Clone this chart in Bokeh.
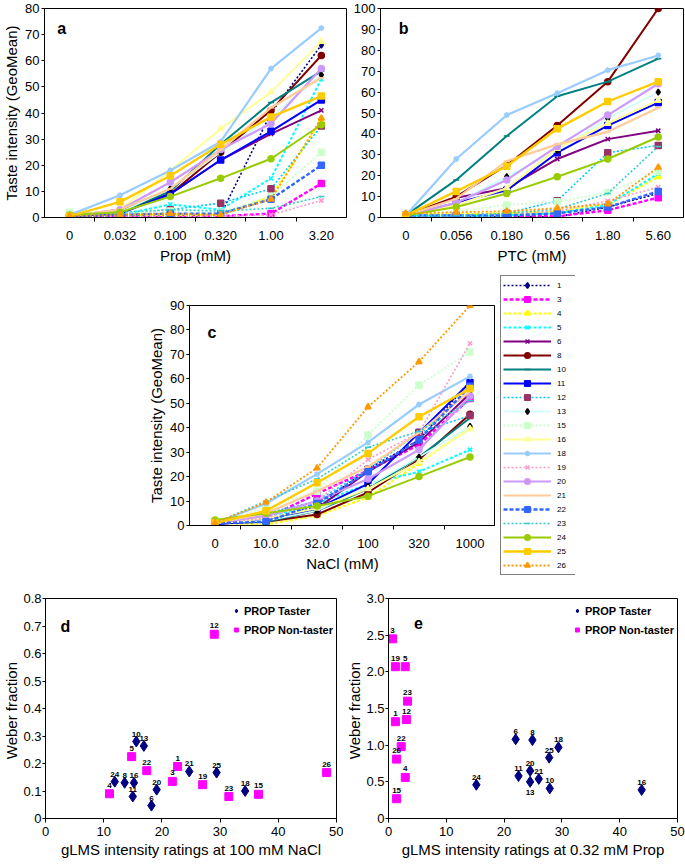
from bokeh.plotting import figure
from bokeh.models import FixedTicker, Legend, LegendItem, Label, ColumnDataSource, Spacer
from bokeh.layouts import column, row
from bokeh.embed import file_html
from bokeh.resources import INLINE
from bokeh.core.properties import value

FONT = "Liberation Sans"

# ---------------- data ----------------
subjects = ["1", "3", "4", "5", "6", "8", "10", "11", "12", "13", "15",
            "16", "18", "19", "20", "21", "22", "23", "24", "25", "26"]

prop_ticks = ["0", "0.032", "0.100", "0.320", "1.00", "3.20"]
ptc_ticks = ["0", "0.056", "0.180", "0.56", "1.80", "5.60"]
nacl_ticks = ["0", "10.0", "32.0", "100", "320", "1000"]

prop_vals = {
    "1": [0.5, 0.5, 0.5, 1.0, 40, 66], "3": [0.3, 0.3, 0.3, 0.5, 1.5, 13],
    "4": [1, 1, 1, 1, 8, 37], "5": [1, 1, 5, 3, 15, 53],
    "6": [0.5, 3, 9, 22, 32, 41], "8": [0.5, 2, 9, 25, 41, 62],
    "10": [0.5, 2, 10, 28, 44, 56], "11": [0.5, 1.5, 9, 22, 33, 45],
    "12": [0.5, 1, 3, 5.5, 11, 35], "13": [0.5, 2, 11, 25, 38.5, 54.6],
    "15": [2, 1.5, 2.5, 2, 8, 25], "16": [0.5, 3, 18, 34, 48, 67.4],
    "18": [1, 8.5, 18, 29, 57, 72.5], "19": [0.3, 0.3, 0.3, 0.5, 1, 6.5],
    "20": [0.5, 3, 13.5, 26, 36, 57], "21": [0.5, 3, 11, 26, 42, 53.5],
    "22": [0.5, 1, 1.5, 1.5, 7, 20], "23": [1, 2, 3, 2.5, 3.5, 8],
    "24": [1, 2, 8, 15, 22.5, 35.5], "25": [0.5, 6, 16, 28, 38.5, 46.5],
    "26": [0.5, 1, 1.5, 1, 7, 38],
}

ptc_vals = {
    "1": [0.5, 0.3, 0.5, 0.3, 5, 11.5], "3": [1, 1, 1, 0.5, 3.5, 9.5],
    "4": [1.5, 1.5, 2, 3, 6, 19.5], "5": [1, 0.5, 1, 2, 6, 21],
    "6": [1, 9.5, 14, 28, 37.5, 41.5], "8": [1, 10, 25, 44, 65, 100],
    "10": [1, 18, 39, 58, 65, 76], "11": [1, 7, 13, 31, 44, 55],
    "12": [1, 1, 2, 8, 31, 34.5], "13": [1, 7, 19.5, 32, 47.5, 60],
    "15": [1, 3, 6, 7.5, 12, 22], "16": [1, 6, 14, 33, 45, 56],
    "18": [1, 28, 49, 59.5, 70.5, 77.5], "19": [1, 1, 2, 3, 8, 14.5],
    "20": [1, 7, 18, 34, 49, 64], "21": [1, 9, 27, 35, 41, 52.5],
    "22": [1, 1, 1, 2, 5, 12.5], "23": [1, 1, 2, 4, 11.5, 34],
    "24": [1, 5, 11.5, 19.5, 28, 38.5], "25": [1, 12.5, 24.5, 42.5, 55.5, 65],
    "26": [2, 2.5, 3, 4.5, 6.5, 24],
}

nacl_vals = {
    "1": [0.5, 2, 8, 23, 35, 59], "3": [1, 3, 13, 22.5, 33, 52],
    "4": [1, 0.5, 4, 11.5, 25.5, 40], "5": [1, 3, 9, 17, 22, 31],
    "6": [1, 2, 7, 22, 34, 54], "8": [1, 1.5, 4.5, 13.5, 27, 45.5],
    "10": [1, 1.5, 6, 15, 28, 44], "11": [0.5, 2, 7, 17, 38, 58.5],
    "12": [1, 5, 10, 23, 38, 45], "13": [1, 2, 6, 16, 28, 40.5],
    "15": [1.5, 7, 14, 37, 57.5, 71], "16": [1, 3, 7, 15, 26, 39.5],
    "18": [1, 9, 21, 34, 49.5, 61], "19": [1, 3, 10, 27, 38, 74.5],
    "20": [1, 4, 10, 19, 31, 53], "21": [1, 5, 14, 24, 38, 55],
    "22": [1, 1.5, 9, 22, 35, 57], "23": [1, 10, 19, 32, 38.5, 51],
    "24": [2.3, 5, 8, 12, 20, 28], "25": [1, 6, 17.5, 29.5, 44.5, 56],
    "26": [1, 9.5, 23.5, 48.5, 67, 90],
}

# panel d: Weber fraction vs gLMS at 100 mM NaCl
d_taster_ids = ["24", "8", "16", "11", "10", "13", "6", "20", "21", "25", "18"]
d_taster_x = [11.9, 13.6, 15.2, 15.0, 15.6, 16.9, 18.2, 19.1, 24.7, 29.4, 34.3]
d_taster_y = [0.134, 0.13, 0.13, 0.08, 0.28, 0.264, 0.047, 0.105, 0.171, 0.167, 0.10]
d_non_ids = ["4", "5", "22", "3", "1", "19", "12", "23", "15", "26"]
d_non_x = [11.0, 14.8, 17.4, 21.8, 22.7, 27.0, 29.0, 31.5, 36.6, 48.3]
d_non_y = [0.09, 0.225, 0.174, 0.135, 0.189, 0.123, 0.67, 0.08, 0.088, 0.167]

# panel e: Weber fraction vs gLMS at 0.32 mM Prop
e_taster_ids = ["24", "6", "8", "18", "25", "11", "20", "21", "13", "10", "16"]
e_taster_x = [15.2, 22.0, 24.9, 29.4, 27.8, 22.5, 24.5, 26.0, 24.5, 27.9, 43.8]
e_taster_y = [0.46, 1.08, 1.07, 0.97, 0.83, 0.58, 0.65, 0.54, 0.50, 0.41, 0.39]
e_non_ids = ["3", "19", "5", "23", "1", "12", "22", "26", "4", "15"]
e_non_x = [0.7, 1.2, 2.9, 3.3, 1.2, 3.1, 2.2, 1.4, 2.9, 1.4]
e_non_y = [2.45, 2.07, 2.07, 1.6, 1.32, 1.35, 0.98, 0.81, 0.56, 0.27]

taste_yticks = {"a": list(range(0, 81, 10)), "b": list(range(0, 101, 10)),
                "c": list(range(0, 91, 10))}
d_yticks = [0, 0.1, 0.2, 0.3, 0.4, 0.5, 0.6, 0.7, 0.8]
d_ylabels = ["0", "0.1", "0.2", "0.3", "0.4", "0.5", "0.6", "0.7", "0.8"]
e_yticks = [0, 0.5, 1.0, 1.5, 2.0, 2.5, 3.0]
e_ylabels = ["0", "0.5", "1.0", "1.5", "2.0", "2.5", "3.0"]
scatter_xticks = [0, 10, 20, 30, 40, 50]

# ---------------- styles ----------------
# subject: (line colour, marker, marker colour, dash, line width)
DOT = "2 2"
styles = {
    "1": ("#000080", "diamond", "#000080", DOT, 1.6),
    "3": ("#FF00FF", "square", "#FF00FF", "4 2", 2.4),
    "4": ("#FFFF00", "triangle", "#FFFF00", "3 2", 2.2),
    "5": ("#00FFFF", "x", "#00FFFF", "3 2", 2.0),
    "6": ("#800080", "x", "#800080", "solid", 2.0),
    "8": ("#800000", "circle", "#800000", "solid", 2.0),
    "10": ("#008080", "dash", "#008080", "solid", 2.0),
    "11": ("#0000FF", "square", "#0000FF", "solid", 2.0),
    "12": ("#00CCFF", "square", "#993366", DOT, 1.6),
    "13": ("#CCFFFF", "diamond", "#000000", "solid", 1.6),
    "15": ("#CCFFCC", "square", "#CCFFCC", DOT, 1.8),
    "16": ("#FFFF99", "triangle", "#FFFF99", "solid", 2.0),
    "18": ("#99CCFF", "asterisk", "#99CCFF", "solid", 2.2),
    "19": ("#FF99CC", "x", "#FF99CC", DOT, 1.6),
    "20": ("#CC99FF", "circle", "#CC99FF", "solid", 2.2),
    "21": ("#FFCC99", "dash", "#FFCC99", "solid", 2.2),
    "22": ("#3366FF", "square", "#3366FF", "4 2", 2.4),
    "23": ("#33CCCC", "dash", "#33CCCC", DOT, 1.6),
    "24": ("#99CC00", "circle", "#99CC00", "solid", 2.0),
    "25": ("#FFCC00", "square", "#FFCC00", "solid", 2.4),
    "26": ("#FF9900", "triangle", "#FF9900", DOT, 1.8),
}


def style_axes(p, tick_size="13px", title_size="15px"):
    for ax in (p.xaxis[0], p.yaxis[0]):
        ax.axis_line_color = "black"
        ax.major_label_text_color = "black"
        ax.major_label_text_font = FONT
        ax.major_label_text_font_size = tick_size
        ax.axis_label_text_font = FONT
        ax.axis_label_text_font_size = title_size
        ax.axis_label_text_font_style = "normal"
        ax.axis_label_text_color = "black"
        ax.major_label_standoff = 2
        ax.axis_label_standoff = 2
        ax.major_tick_line_color = "black"
        ax.major_tick_out = 3
        ax.major_tick_in = 0
        ax.minor_tick_line_color = None
    p.xgrid.visible = False
    p.ygrid.visible = False
    p.outline_line_color = "black"
    p.outline_line_width = 1


def panel_letter(p, xy, letter):
    p.add_layout(Label(x=xy[0], y=xy[1], text=letter, text_font=FONT,
                       text_font_style="bold", text_font_size="16px",
                       text_align="center", text_baseline="middle",
                       text_color="black"))


def draw_series(p, xs, vals):
    items = []
    for s in subjects:
        lc, mk, mc, dash, lw = styles[s]
        src = ColumnDataSource(dict(x=xs, y=vals[s]))
        lr = p.line("x", "y", source=src, line_color=lc, line_width=lw,
                    line_dash=dash)
        mr = p.scatter("x", "y", source=src, marker=mk, size=6,
                       line_color=mc, fill_color=mc, line_width=1.5)
        items.append(LegendItem(label=s, renderers=[lr, mr]))
    return items


def line_panel(ticks, vals, yticks, width, height, borders, xlabel, ylabel,
               letter, letter_xy):
    xs = list(range(len(ticks)))
    left, right, top, bottom = borders
    p = figure(width=width, height=height, output_backend="svg",
               toolbar_location=None, x_range=(-0.5, len(ticks) - 0.5),
               y_range=(0, yticks[-1]), min_border_left=left,
               min_border_right=right, min_border_top=top,
               min_border_bottom=bottom)
    style_axes(p)
    p.xaxis.ticker = FixedTicker(ticks=xs, minor_ticks=[x + 0.5 for x in xs[:-1]])
    p.xaxis.major_label_overrides = {x: t for x, t in zip(xs, ticks)}
    p.xaxis.major_tick_line_color = None
    p.xaxis.minor_tick_line_color = "black"
    p.xaxis.minor_tick_out = 4
    p.xaxis.minor_tick_in = 0
    p.xaxis.major_label_standoff = 9
    p.xaxis.axis_label_standoff = 4
    p.yaxis.ticker = FixedTicker(ticks=yticks)
    p.xaxis.axis_label = xlabel
    p.yaxis.axis_label = ylabel
    draw_series(p, xs, vals)
    panel_letter(p, letter_xy, letter)
    return p


pa = line_panel(prop_ticks, prop_vals, taste_yticks["a"], 348, 268,
                (38, 2, 8, 51), "Prop (mM)", "Taste intensity (GeoMean)",
                "a", (-0.16, 72.5))
pb = line_panel(ptc_ticks, ptc_vals, taste_yticks["b"], 337, 268,
                (32, 2, 8, 51), "PTC (mM)", "", "b", (-0.04, 90.5))
pc = line_panel(nacl_ticks, nacl_vals, taste_yticks["c"], 350, 312,
                (43, 0, 37, 55), "NaCl (mM)",
                "Taste intensity (GeoMean)", "c", (-0.06, 79))

# subject legend on its own small canvas; proxy series sit outside its view
pl = figure(width=80, height=312, output_backend="svg", toolbar_location=None,
            x_axis_type=None, y_axis_type=None, min_border=0,
            min_border_left=0, min_border_right=0, min_border_top=0,
            min_border_bottom=0, outline_line_color=None,
            x_range=(100, 101), y_range=(100, 101))
pl.xgrid.visible = False
pl.ygrid.visible = False
items_l = draw_series(pl, list(range(len(nacl_ticks))), nacl_vals)
leg_c = Legend(items=items_l, location=(5, 5), orientation="vertical",
               label_text_font=FONT, label_text_font_size="8px",
               label_text_color="black", glyph_width=48, glyph_height=14,
               label_height=14, label_standoff=6, spacing=0, padding=2,
               margin=0, border_line_color="black", border_line_width=1,
               background_fill_color="white", background_fill_alpha=1.0)
pl.add_layout(leg_c)


def scatter_panel(width, height, borders, yticks, ylabels, xlabel, letter,
                  letter_xy, tx, ty, tid, nx, ny, nid, below, leg_margin):
    left, right, top, bottom = borders
    p = figure(width=width, height=height, output_backend="svg",
               toolbar_location=None, x_range=(0, scatter_xticks[-1]),
               y_range=(0, yticks[-1]), min_border_left=left,
               min_border_right=right, min_border_top=top,
               min_border_bottom=bottom)
    style_axes(p)
    p.yaxis.major_label_standoff = 1
    p.yaxis.axis_label_standoff = 0
    p.xaxis.ticker = FixedTicker(ticks=scatter_xticks)
    p.yaxis.ticker = FixedTicker(ticks=yticks)
    p.yaxis.major_label_overrides = {t: l for t, l in zip(yticks, ylabels)}
    p.xaxis.major_tick_out = 4
    p.xaxis.major_label_standoff = 4
    p.xaxis.axis_label = xlabel
    p.yaxis.axis_label = "Weber  fraction"
    tsrc = ColumnDataSource(dict(x=tx, y=ty, id=tid,
                                 off=[8 if i in below else -5 for i in tid],
                                 base=["top" if i in below else "bottom" for i in tid]))
    nsrc = ColumnDataSource(dict(x=nx, y=ny, id=nid,
                                 off=[8 if i in below else -6 for i in nid],
                                 base=["top" if i in below else "bottom" for i in nid]))
    r_t = p.scatter("x", "y", source=tsrc, marker="diamond", size=11,
                    fill_color="#000080", line_color="#000080")
    r_n = p.scatter("x", "y", source=nsrc, marker="square", size=8,
                    fill_color="#FF00FF", line_color="#FF00FF")
    for src in (tsrc, nsrc):
        p.text("x", "y", text="id", source=src, y_offset="off",
               text_baseline="base", text_align="center",
               text_font=value(FONT), text_font_size="8px",
               text_font_style="bold", text_color="black")
    leg = Legend(items=[LegendItem(label="PROP Taster", renderers=[r_t]),
                        LegendItem(label="PROP Non-taster", renderers=[r_n])],
                 location="top_right", margin=leg_margin, padding=0,
                 spacing=0, glyph_width=10, glyph_height=19, label_height=19,
                 label_standoff=3, label_text_font=FONT,
                 label_text_font_size="11px", label_text_font_style="bold",
                 label_text_color="black", border_line_color=None,
                 background_fill_alpha=0)
    p.add_layout(leg)
    panel_letter(p, letter_xy, letter)
    return p


pd_ = scatter_panel(343, 285, (40, 7, 18, 47), d_yticks, d_ylabels,
                    "gLMS intensity ratings at 100 mM NaCl", "d", (3.4, 0.70),
                    d_taster_x, d_taster_y, d_taster_ids,
                    d_non_x, d_non_y, d_non_ids, [], 3)
pe = scatter_panel(342, 285, (38, 8, 18, 47), e_yticks, e_ylabels,
                   "gLMS intensity ratings at 0.32 mM Prop", "e", (5.2, 2.66),
                   e_taster_x, e_taster_y, e_taster_ids,
                   e_non_x, e_non_y, e_non_ids, ["13"], 3)

layout = column(row(pa, pb),
                row(Spacer(width=145, height=312), pc, column(pl)),
                row(pd_, pe))

open("out.html", "w").write(file_html(layout, INLINE))
